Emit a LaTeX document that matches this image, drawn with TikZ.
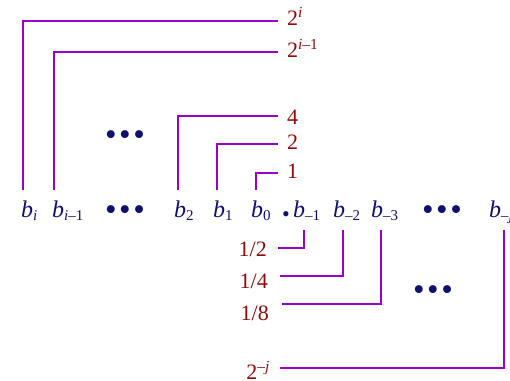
\documentclass[tikz,border=0pt]{standalone}
\usepackage{fontspec}
\setmainfont{Liberation Serif}

\definecolor{bitblue}{RGB}{15,15,110}
\definecolor{weightred}{RGB}{145,10,10}
\definecolor{linkpurple}{RGB}{153,0,204}

\tikzset{
	bit/.style={anchor=base west, inner sep=0pt, outer ysep=10pt,
		text=bitblue, font=\fontsize{24}{28}\selectfont},
	weight/.style={inner ysep=0pt, text=weightred,
		font=\fontsize{22}{26}\selectfont},
	dots/.style={inner sep=0pt, text=bitblue,
		font=\fontsize{33}{36}\selectfont},
	link/.style={draw=linkpurple, line width=2.6pt}
}

\newcommand{\bitname}[1]{\textit{b}\raisebox{-3pt}{\fontsize{15}{15}\selectfont #1}}
\newcommand{\ellip}{\textbullet\hspace{2.5pt}\textbullet\hspace{2.5pt}\textbullet}

\begin{document}
\begin{tikzpicture}[x=1pt, y=-1pt]
	\useasboundingbox (0,0) rectangle (510,380);
	\def \row {217}

	% the bits
	\node[bit] (bi)      at (21,\row)  {\bitname{\textit{i}}};
	\node[bit] (bim)     at (52,\row)  {\bitname{\textit{i}\textendash 1}};
	\node[bit] (btwo)    at (174,\row) {\bitname{2}};
	\node[bit] (bone)    at (213,\row) {\bitname{1}};
	\node[bit] (bzero)   at (251,\row) {\bitname{0}};
	\node[bit] (bmone)   at (293,\row) {\bitname{\textendash 1}};
	\node[bit] (bmtwo)   at (333,\row) {\bitname{\textendash 2}};
	\node[bit] (bmthree) at (371,\row) {\bitname{\textendash 3}};
	\node[bit] (bmj)     at (489,\row) {\bitname{\textendash\textit{j}}};
	\node[dots, anchor=base, font=\fontsize{22}{26}\selectfont] (point)
		at (286,221) {\textbullet};

	\node[dots, anchor=base] (rowleft)  at (125,220) {\ellip};
	\node[dots, anchor=base] (rowright) at (442,220) {\ellip};
	\node[dots, anchor=base] (upper)    at (125,145) {\ellip};
	\node[dots, anchor=base] (lower)    at (433,300) {\ellip};

	% the weights
	\node[weight, anchor=base west, inner xsep=9pt] (wi)    at (278,25)
		{2\textsuperscript{\textit{i}}};
	\node[weight, anchor=base west, inner xsep=9pt] (wim)   at (278,57)
		{2\textsuperscript{\textit{i}\textendash 1}};
	\node[weight, anchor=base west, inner xsep=9pt] (wfour) at (278,124)
		{4};
	\node[weight, anchor=base west, inner xsep=9pt] (wtwo)  at (278,149)
		{2};
	\node[weight, anchor=base west, inner xsep=9pt] (wone)  at (278,178)
		{1};
	\node[weight, anchor=base east, inner xsep=11pt] (whalf)    at (278,256)
		{1/2};
	\node[weight, anchor=base east, inner xsep=12pt] (wquarter) at (280,288)
		{1/4};
	\node[weight, anchor=base east, inner xsep=13pt] (weighth)  at (282,320)
		{1/8};
	\node[weight, anchor=base east, inner xsep=10pt] (wj)       at (280,379)
		{2\textsuperscript{\textendash\textit{j}}};

	% bit to weight
	\draw[link] ([xshift=2pt]bi.north west)    |- ([yshift=4pt]wi.base west);
	\draw[link] ([xshift=2pt]bim.north west)   |- ([yshift=5pt]wim.base west);
	\draw[link] ([xshift=4pt]btwo.north west)  |- ([yshift=8pt]wfour.base west);
	\draw[link] ([xshift=4pt]bone.north west)  |- ([yshift=5pt]wtwo.base west);
	\draw[link] ([xshift=5pt]bzero.north west) |- ([yshift=5pt]wone.base west);
	\draw[link] ([xshift=11pt]bmone.south west)   |- ([yshift=8pt]whalf.base east);
	\draw[link] ([xshift=10pt]bmtwo.south west)   |- ([yshift=12pt]wquarter.base east);
	\draw[link] ([xshift=10pt]bmthree.south west) |- ([yshift=16pt]weighth.base east);
	\draw[link] ([xshift=15pt,yshift=3pt]bmj.south west) |- ([yshift=11pt]wj.base east);
\end{tikzpicture}
\end{document}
